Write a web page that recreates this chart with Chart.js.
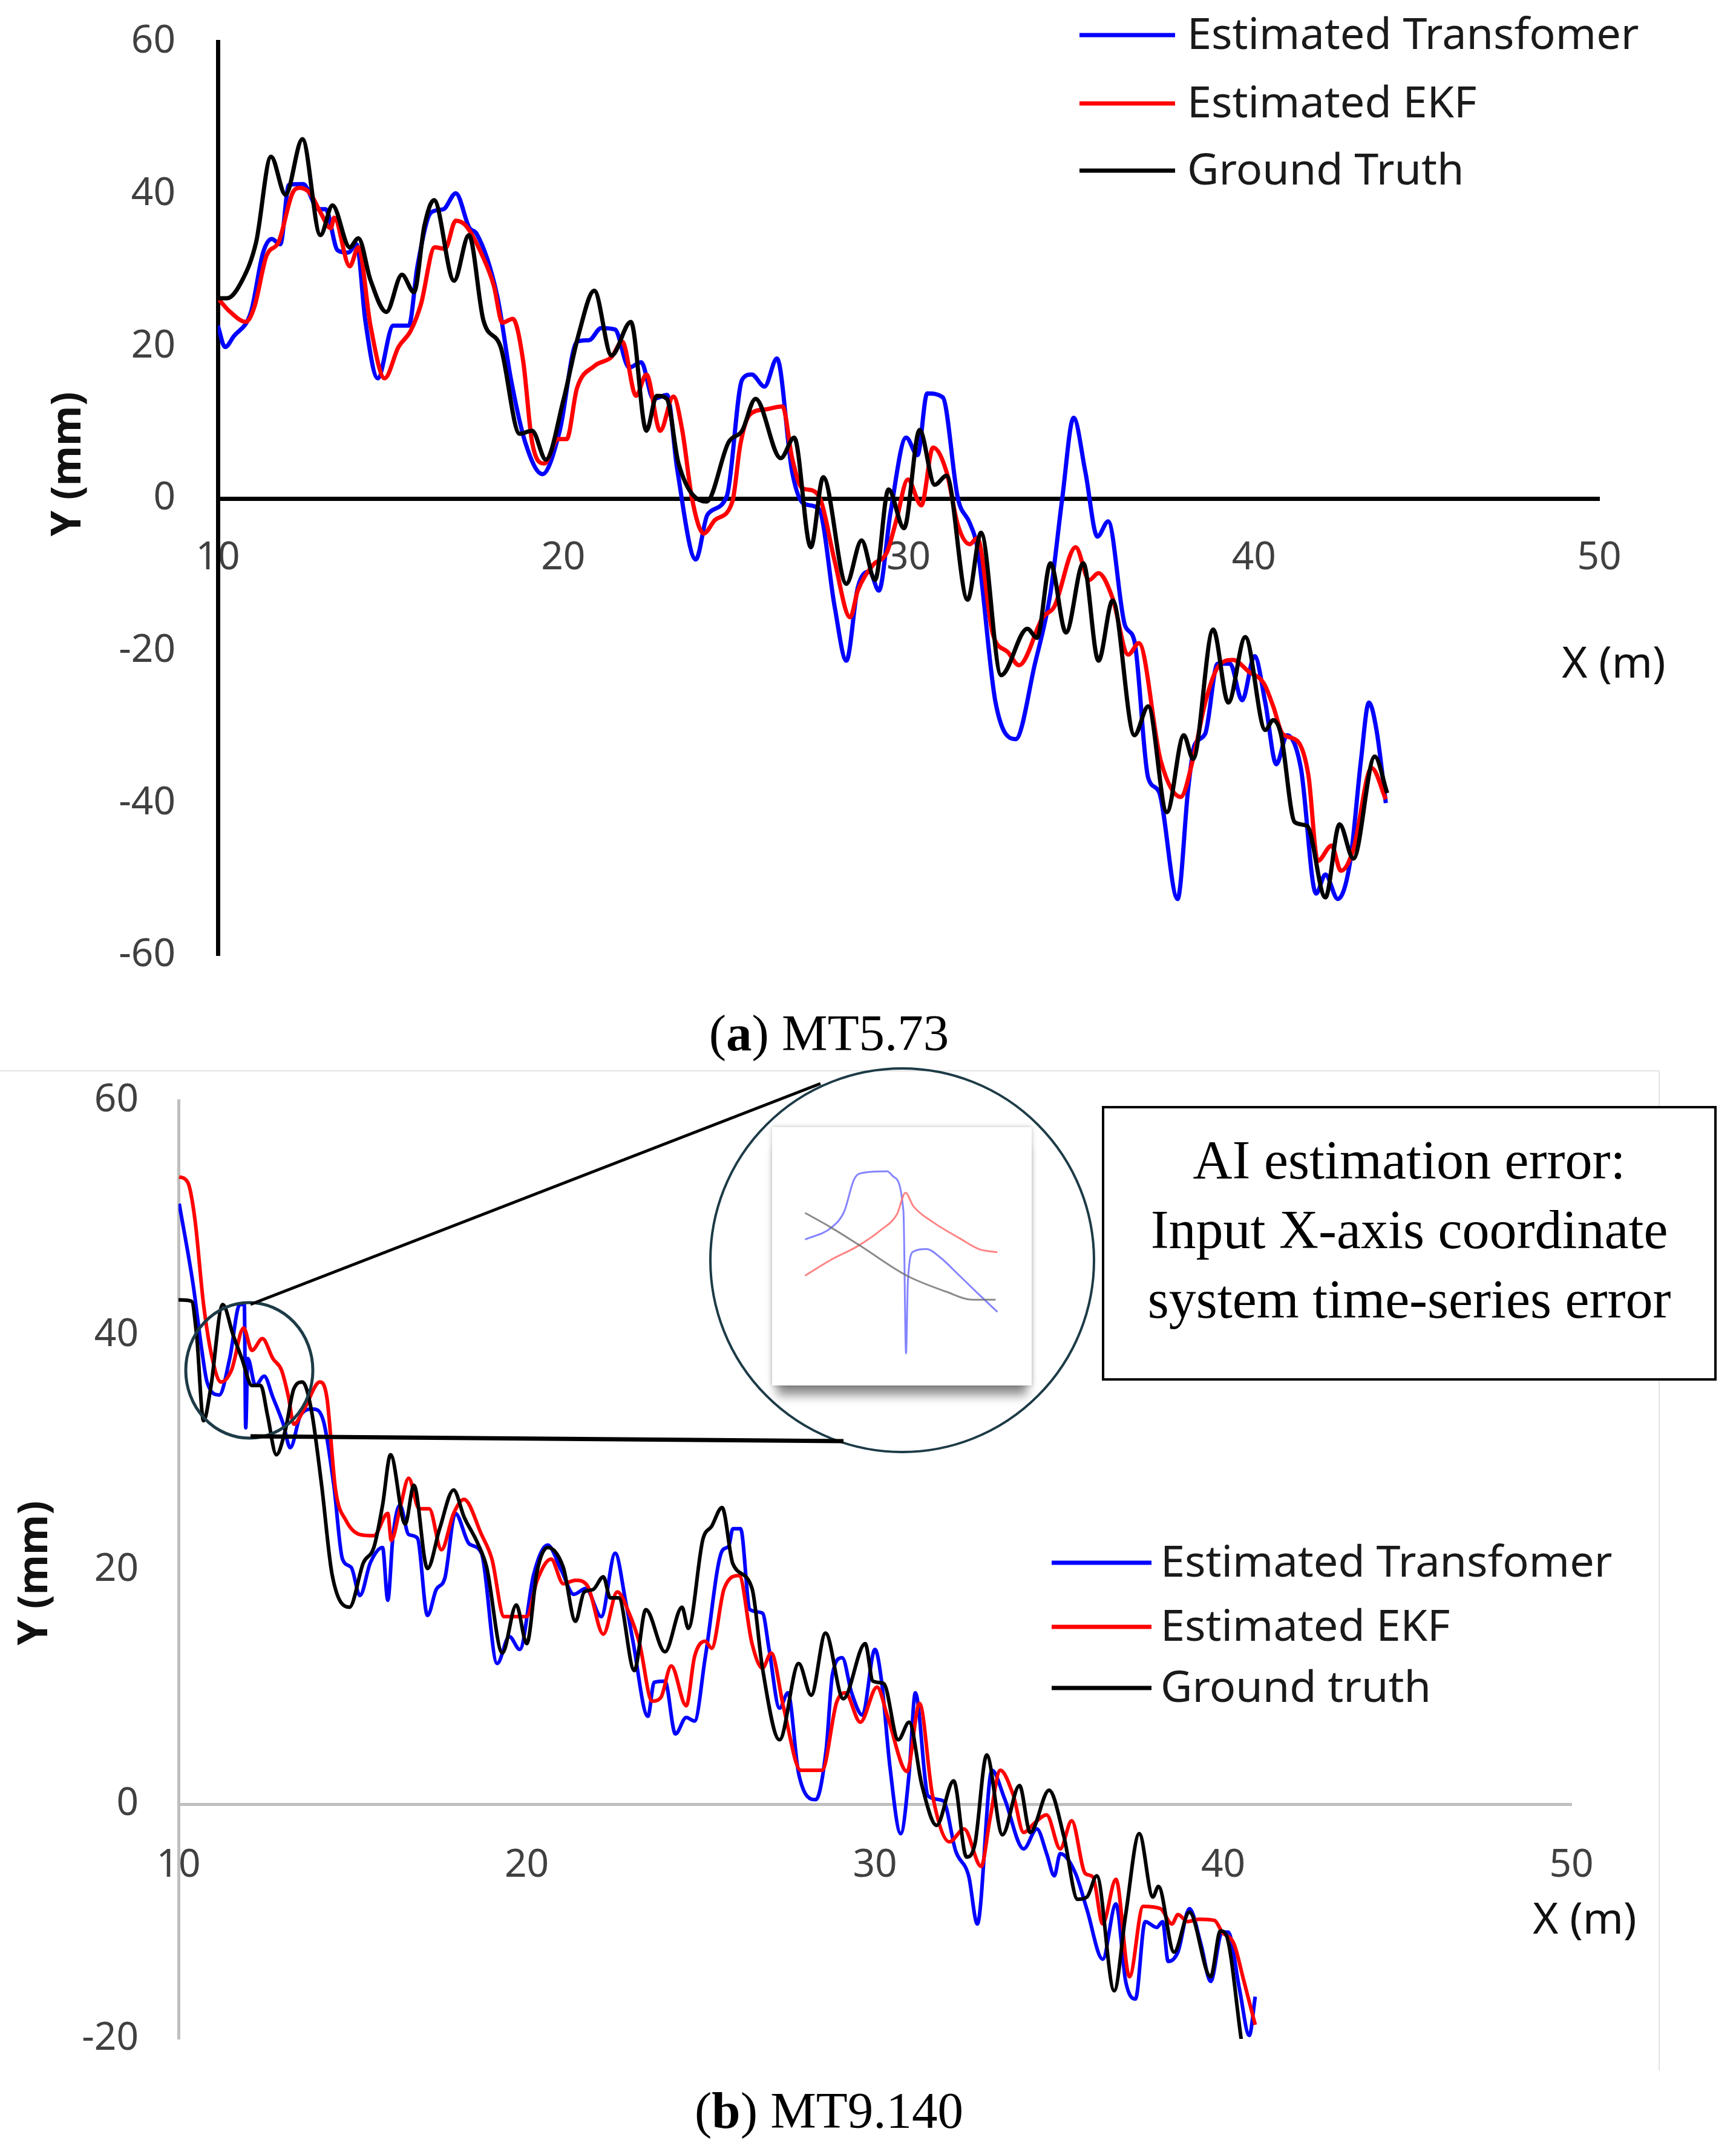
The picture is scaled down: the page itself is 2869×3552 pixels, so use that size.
<!DOCTYPE html>
<html>
<head>
<meta charset="utf-8">
<script src="https://cdn.jsdelivr.net/npm/chart.js@4.4.1/dist/chart.umd.min.js"></script>
<style>
  body { margin:0; background:#fff; width:2869px; height:3552px; position:relative; overflow:hidden; }
  canvas { position:absolute; }
  #top { left:0; top:0; }
  #bottom { left:0; top:1760px; }
  .cap { position:absolute; left:0; width:2740px; text-align:center; font-family:"Liberation Serif", serif; font-size:85px; line-height:100px; color:#000; }
  #insetBox { position:absolute; left:1276px; top:1863px; width:429px; height:427px; background:#fff;
              box-shadow: 0 24px 16px -8px rgba(0,0,0,0.45), 0 0 8px rgba(0,0,0,0.25); }
  #inset { left:0; top:0; }
  #note { position:absolute; left:1821px; top:1828px; width:1016px; height:454px; border:4px solid #000;
          box-sizing:border-box; text-align:center; font-family:"Liberation Serif", serif; font-size:90px;
          line-height:115px; padding-top:28px; color:#000; background:#fff; }
</style>
</head>
<body>
<canvas id="top" width="2869" height="1650"></canvas>
<div class="cap" style="top:1657px">(<b>a</b>) MT5.73</div>
<canvas id="bottom" width="2869" height="1700"></canvas>
<div id="insetBox"><canvas id="inset" width="429" height="427"></canvas></div>
<div id="note">AI estimation error:<br>Input X-axis coordinate<br>system time-series error</div>
<div class="cap" style="top:3438px">(<b>b</b>) MT9.140</div>

<script>
// ---- (a) MT5.73 ----
var topTransX = [10.0,10.21,10.46,10.96,11.31,11.56,11.81,12.06,12.47,12.92,13.12,13.47,13.77,14.02,14.27,14.63,15.08,15.53,15.78,16.18,16.53,16.89,17.29,17.49,18.09,18.49,18.9,19.4,19.9,20.4,20.75,21.1,21.5,21.91,22.26,22.61,23.01,23.3,23.84,24.18,24.74,25.18,25.46,25.83,26.19,26.63,26.97,27.41,27.86,28.2,28.53,28.87,29.14,29.48,29.93,30.26,30.54,30.99,31.43,31.77,31.99,32.52,33.1,33.66,34.11,34.45,34.78,35.12,35.47,35.78,36.27,36.54,36.94,37.25,37.79,38.1,38.28,38.59,38.95,39.31,39.66,40.02,40.33,40.65,40.96,41.36,41.8,42.07,42.43,42.79,43.1,43.33,43.55,43.82];
var topTransY = [22.7,19.9,21.3,24.5,32.3,34.1,33.4,41.2,41.3,38.0,38.0,32.6,32.3,33.4,23.4,15.8,22.7,22.7,30.5,37.6,38.0,40.1,35.5,34.8,26.6,15.6,7.4,3.2,8.9,20.6,20.8,22.4,22.2,17.2,17.9,13.1,13.6,3.9,-8.0,-2.1,0.35,15.6,16.3,14.7,18.4,3.5,-0.7,-1.4,-14.2,-21.3,-11.7,-9.6,-12.1,-1.8,8.0,5.7,13.8,13.3,0,-3.2,-6.4,-26.8,-31.6,-21.7,-12.4,0,10.6,3.5,-5.0,-3.0,-16.7,-18.7,-36.7,-38.5,-52.6,-38.0,-32.4,-30.9,-21.7,-21.7,-26.5,-20.7,-26.8,-34.9,-31.1,-35.4,-51.9,-49.4,-52.6,-47.6,-34.4,-26.8,-30.4,-40.0];

var topEkfX = [10.0,10.36,10.81,11.06,11.41,11.76,12.16,12.37,12.67,12.97,13.27,13.37,13.82,14.07,14.42,14.83,15.23,15.58,15.88,16.28,16.58,16.89,17.19,17.69,17.99,18.24,18.54,18.84,19.1,19.45,19.85,20.1,20.4,20.9,21.4,21.71,22.11,22.41,22.81,23.19,23.45,23.73,24.07,24.4,24.9,25.13,25.4,25.85,26.35,26.63,26.91,27.19,27.47,27.86,28.31,28.53,28.98,29.37,29.65,29.98,30.37,30.71,31.1,31.43,31.77,31.99,32.44,32.88,33.2,33.89,34.22,34.84,35.23,35.5,35.91,36.36,36.67,37.3,37.88,38.24,38.59,38.95,39.4,39.84,40.29,40.56,40.83,41.27,41.58,41.85,42.25,42.52,42.88,43.41,43.82];
var topEkfY = [26.3,24.5,23.2,25.2,31.9,33.7,40.1,40.8,40.1,37.6,35.5,36.9,30.5,33.0,22.7,15.8,19.9,22.0,25.5,33.0,32.8,36.5,35.8,31.6,28.0,23.1,23.6,18.1,7.4,4.6,7.8,7.8,14.5,17.4,18.6,20.6,13.5,16.3,8.9,13.4,8.9,0,-4.6,-2.8,-0.4,7.1,11.0,11.7,12.1,5.3,1.4,1.1,-0.4,-8.2,-15.6,-12.1,-8.7,-7.1,-2.8,2.5,-0.9,6.7,3.5,-3.5,-6.0,-5.2,-17.8,-20.2,-21.9,-15.6,-14.2,-6.4,-10.7,-9.8,-13.1,-20.5,-19.0,-34.4,-39.2,-34.2,-26.8,-22.2,-21.2,-22.7,-24.3,-27.3,-30.9,-31.9,-36.4,-47.6,-45.6,-48.9,-46.1,-35.4,-39.5];

var topTruthX = [10.0,10.26,10.71,11.11,11.54,11.96,12.45,12.97,13.32,13.82,14.07,14.42,14.88,15.33,15.68,15.98,16.26,16.84,17.27,17.69,18.19,18.74,19.1,19.5,20.0,20.45,20.9,21.4,21.96,22.41,22.71,23.0,23.34,24.15,24.79,25.18,25.57,26.3,26.69,27.17,27.53,28.2,28.64,29.03,29.42,29.87,30.32,30.76,31.1,31.71,32.1,32.68,33.44,33.72,34.11,34.56,35.06,35.5,35.91,36.54,36.94,37.48,37.97,38.24,38.82,39.26,39.75,40.33,40.56,40.78,41.18,41.54,42.07,42.48,42.88,43.5,43.86];
var topTruthY = [26.3,26.3,28.7,33.7,44.9,39.9,47.2,34.6,38.5,33.0,34.2,28.7,24.5,29.4,27.1,35.8,39.2,28.6,34.6,23.4,19.9,8.5,8.9,5.1,12.8,21.6,27.3,18.8,23.2,8.9,13.5,13.1,4.6,-0.4,7.4,8.9,13.1,5.3,8.0,-6.4,2.8,-11.2,-5.5,-10.7,1.2,-3.9,9.0,1.8,3.0,-13.3,-4.5,-23.2,-17.1,-18.3,-8.5,-17.6,-8.5,-21.3,-13.4,-31.1,-27.3,-41.2,-31.1,-34.2,-17.2,-26.8,-18.2,-30.4,-29.1,-30.9,-42.5,-43.0,-52.4,-42.8,-47.3,-33.9,-38.7];

// ---- (b) MT9.140 ----
var botTransX = [10.02,10.42,10.67,10.82,11.17,11.47,11.76,11.89,11.93,11.99,12.21,12.46,12.71,13.01,13.21,13.51,13.86,14.16,14.46,14.71,14.96,15.21,15.51,15.86,16.01,16.16,16.36,16.61,16.86,17.15,17.4,17.65,17.95,18.35,18.7,19.15,19.5,19.8,20.2,20.6,21.0,21.35,21.7,22.14,22.54,22.84,23.05,23.48,23.66,23.97,24.27,24.58,24.82,25.13,25.61,25.8,25.92,26.14,26.41,26.77,26.96,27.26,27.5,27.81,28.3,28.6,28.78,29.06,29.33,29.64,30.0,30.19,30.43,30.74,30.98,31.16,31.53,31.96,32.32,32.69,32.94,33.36,33.72,34.27,34.65,34.93,35.15,35.32,35.76,36.09,36.54,36.92,37.2,37.48,37.76,38.09,38.26,38.42,38.7,39.03,39.36,39.64,39.97,40.14,40.47,40.75,40.92];
var botTransY = [51.2,44.3,38.7,36.0,34.9,38.0,42.6,42.6,32.1,38.0,35.7,36.5,34.7,32.4,30.4,33.2,33.7,32.7,27.2,20.9,20.2,17.8,20.6,21.9,17.4,22.9,25.5,23.0,22.7,16.1,18.3,19.3,24.8,22.2,21.4,12.0,14.3,13.2,19.6,22.1,19.9,17.9,18.4,16.0,21.4,17.3,13.9,7.5,10.4,10.5,6.0,7.4,7.1,12.6,21.6,22.0,23.5,23.5,16.6,16.3,13.2,8.2,9.5,2.6,0.4,4.7,11.1,12.5,9.5,7.6,13.2,10.5,3.2,-2.5,2.6,9.5,0.7,0.3,-4.0,-6.1,-10.2,2.9,0.5,-3.8,-2.1,-4.2,-6.1,-4.2,-5.9,-9.0,-13.2,-8.5,-15.1,-16.6,-10.0,-10.5,-10.0,-13.4,-12.6,-8.9,-11.9,-15.1,-10.9,-10.9,-15.8,-19.7,-16.4];

var botEkfX = [10.02,10.27,10.47,10.72,10.97,11.22,11.52,11.87,12.11,12.41,12.71,12.96,13.16,13.31,13.61,14.06,14.26,14.51,14.81,15.21,15.61,16.01,16.11,16.36,16.61,16.91,17.2,17.55,17.9,18.2,18.7,19.0,19.35,19.7,20.0,20.3,20.7,21.05,21.4,21.75,22.2,22.6,22.94,23.24,23.6,23.85,24.15,24.58,24.82,25.13,25.31,25.67,26.1,26.47,26.77,27.02,27.38,27.87,28.48,28.9,29.15,29.58,30.06,30.37,30.92,31.28,31.65,32.14,32.56,33.05,33.3,33.6,33.97,34.27,34.58,34.93,35.32,35.65,36.04,36.26,36.54,36.92,37.31,37.7,38.2,38.53,38.7,38.98,39.31,39.75,39.97,40.31,40.58,40.92];
var botEkfY = [53.5,53.0,49.9,42.6,38.0,36.0,37.0,40.6,38.7,39.7,38.0,37.0,34.7,32.4,33.7,36.0,34.7,26.8,24.2,23.0,22.9,24.8,22.5,25.2,27.8,25.2,25.2,21.7,24.8,26.0,23.0,20.9,16.0,16.0,16.0,19.1,20.9,18.8,19.1,18.6,14.5,18.1,16.3,13.7,8.8,9.1,11.8,8.4,12.6,13.9,13.3,18.4,19.5,13.7,11.6,12.9,8.2,2.9,2.9,8.7,9.5,7.0,10.0,7.4,2.8,8.6,0.8,-3.2,-2.1,-5.3,-1.3,2.9,0.8,-2.4,-1.6,-0.9,-3.8,-1.4,-5.9,-6.2,-10.2,-6.4,-14.7,-8.7,-8.9,-10.2,-9.4,-10.0,-9.8,-9.9,-10.9,-11.9,-14.9,-18.8];

var botTruthX = [10.0,10.37,10.52,10.72,10.92,11.27,11.57,11.82,12.11,12.36,12.56,12.81,13.06,13.31,13.56,13.81,14.11,14.41,14.91,15.31,15.61,15.86,16.09,16.51,16.76,17.15,17.5,17.9,18.2,18.6,18.85,19.3,19.7,20.0,20.3,20.6,21.05,21.4,21.65,21.9,22.2,22.4,22.64,23.09,23.42,23.97,24.46,24.64,25.06,25.31,25.61,25.92,26.47,26.77,27.26,27.81,28.17,28.58,29.09,29.72,29.94,30.25,30.67,30.98,31.35,31.77,32.26,32.63,32.87,33.21,33.66,34.15,34.46,35.0,35.43,35.82,36.09,36.37,36.87,37.2,37.59,37.98,38.14,38.59,39.03,39.64,39.92,40.08,40.53];
var botTruthY = [43.0,42.9,40.0,32.7,35.4,42.6,40.0,38.0,35.7,35.7,33.1,29.8,31.8,35.4,36.0,33.7,27.2,19.6,16.8,20.6,21.9,25.5,29.8,23.9,27.2,20.1,23.5,26.8,24.5,22.2,20.2,12.9,17.0,13.7,19.9,21.9,20.2,15.6,18.1,18.3,19.4,17.6,17.6,11.4,16.6,13.0,16.8,15.0,22.6,23.7,25.3,20.5,18.4,11.6,5.5,12.0,9.3,14.6,9.0,13.7,10.5,10.3,5.5,7.0,1.6,-1.8,2.0,-4.5,-3.4,4.2,-2.6,1.6,-2.4,1.2,-2.8,-8.1,-7.9,-6.1,-15.9,-9.4,-2.5,-7.9,-7.0,-12.6,-9.2,-14.7,-10.8,-11.1,-20.3];

// ---- zoomed inset (relative units 0..100) ----
var insetTransX = [12.7,22.8,27.8,31.6,35.4,44.3,46.8,50.6,51.6,52.3,54.4,59.5,64.6,72.2,79.7,86.8];
var insetTransY = [56.5,61.1,67.4,79.8,82.4,82.9,80.8,67.4,12.4,40.0,51.8,52.8,49.7,42.5,35.2,28.5];
var insetEkfX = [12.7,22.8,32.9,41.8,48.1,51.4,54.4,62.0,72.2,79.7,86.8];
var insetEkfY = [42.5,48.7,53.9,60.1,66.3,74.6,69.4,63.2,57.0,52.8,51.6];
var insetTruthX = [12.7,22.8,34.2,51.9,67.1,77.2,86.1];
var insetTruthY = [66.8,61.1,53.9,42.5,36.3,33.2,33.2];

var labels = ['Estimated Transfomer', 'Estimated EKF', 'Ground Truth'];
var labelsB = ['Estimated Transfomer', 'Estimated EKF', 'Ground truth'];
var colors = ['#0000ff', '#ff0000', '#000000'];
var xTicks = [10, 20, 30, 40, 50];

function pts(xs, ys) { return xs.map(function (x, i) { return {x: x, y: ys[i]}; }); }

function series(lbls, sets, width) {
  return sets.map(function (s, i) {
    return {
      label: lbls[i], data: pts(s[0], s[1]), borderColor: colors[i], backgroundColor: colors[i],
      borderWidth: width, pointRadius: 0, cubicInterpolationMode: 'monotone', fill: false, order: 3 - i
    };
  });
}

function noPad(s) { s.paddingLeft = 0; s.paddingRight = 0; s.paddingTop = 0; s.paddingBottom = 0; }

function drawLegend(ctx, lbls, x0, x1, tx, rows) {
  ctx.save();
  ctx.font = '72px "Noto Sans"';
  ctx.textBaseline = 'middle';
  ctx.textAlign = 'left';
  lbls.forEach(function (l, i) {
    ctx.strokeStyle = colors[i];
    ctx.lineWidth = 7;
    ctx.beginPath(); ctx.moveTo(x0, rows[i]); ctx.lineTo(x1, rows[i]); ctx.stroke();
    ctx.fillStyle = '#1a1a1a';
    ctx.fillText(l, tx, rows[i] + 2);
  });
  ctx.restore();
}

function axisTitles(ctx, yx, yy, xx, xy) {
  ctx.save();
  ctx.fillStyle = '#111';
  ctx.textAlign = 'center';
  ctx.textBaseline = 'middle';
  ctx.font = '72px "Noto Sans"';
  ctx.fillText('X (m)', xx, xy);
  ctx.translate(yx, yy);
  ctx.rotate(-Math.PI / 2);
  ctx.font = 'bold 68px "Noto Sans"';
  ctx.fillText('Y (mm)', 0, 0);
  ctx.restore();
}

function scalesFor(ymin, ymax, axisColor, axisWidth, yWidth, xPad, yPad) {
  return {
    x: {
      type: 'linear', min: 10, max: 50, position: {y: 0},
      afterBuildTicks: function (s) { s.ticks = xTicks.map(function (v) { return {value: v}; }); },
      afterFit: noPad,
      grid: {display: false, drawTicks: false},
      border: {display: true, color: axisColor, width: axisWidth},
      ticks: {autoSkip: false, maxRotation: 0, padding: xPad, color: '#404040', font: {family: 'Noto Sans', size: 64}}
    },
    y: {
      type: 'linear', min: ymin, max: ymax, position: 'left',
      afterFit: function (s) { noPad(s); s.width = yWidth; },
      grid: {display: false, drawTicks: false},
      border: {display: true, color: axisColor, width: axisWidth},
      ticks: {stepSize: 20, padding: yPad, color: '#404040', font: {family: 'Noto Sans', size: 64}}
    }
  };
}

Chart.defaults.font.family = 'Noto Sans';

new Chart(document.getElementById('top'), {
  type: 'line',
  data: {datasets: series(labels, [[topTransX, topTransY], [topEkfX, topEkfY], [topTruthX, topTruthY]], 7)},
  options: {
    responsive: false, animation: false, devicePixelRatio: 1,
    layout: {padding: {left: 0, right: 226, top: 69, bottom: 71}},
    plugins: {legend: {display: false}, tooltip: {enabled: false}},
    scales: scalesFor(-60, 60, '#000000', 7, 360, 60, 70)
  },
  plugins: [{
    id: 'topDecor',
    afterDraw: function (chart) {
      var ctx = chart.ctx;
      drawLegend(ctx, labels, 1784, 1942, 1962, [58, 171, 282]);
      axisTitles(ctx, 114, 767, 2667, 1099);
    }
  }]
});

new Chart(document.getElementById('bottom'), {
  type: 'line',
  data: {datasets: series(labelsB, [[botTransX, botTransY], [botEkfX, botEkfY], [botTruthX, botTruthY]], 6)},
  options: {
    responsive: false, animation: false, devicePixelRatio: 1,
    layout: {padding: {left: 0, right: 272, top: 59, bottom: 90}},
    plugins: {legend: {display: false}, tooltip: {enabled: false}},
    scales: scalesFor(-20, 60, '#bfbfbf', 5, 295, 63, 66)
  },
  plugins: [{
    id: 'bottomDecor',
    afterDraw: function (chart) {
      var ctx = chart.ctx;
      ctx.save();
      // chart frame
      ctx.strokeStyle = '#e3e3e3'; ctx.lineWidth = 2;
      ctx.beginPath(); ctx.moveTo(0, 10); ctx.lineTo(2742, 10); ctx.lineTo(2742, 1663); ctx.stroke();
      // zoom callout
      ctx.strokeStyle = '#1d3b47'; ctx.lineWidth = 5;
      ctx.beginPath(); ctx.ellipse(412, 505, 105, 112, 0, 0, Math.PI * 2); ctx.stroke();
      ctx.lineWidth = 4;
      ctx.beginPath(); ctx.ellipse(1491, 323, 317, 317, 0, 0, Math.PI * 2); ctx.stroke();
      ctx.strokeStyle = '#000'; ctx.lineWidth = 5;
      ctx.beginPath(); ctx.moveTo(414, 396); ctx.lineTo(1356, 31); ctx.stroke();
      ctx.lineWidth = 7;
      ctx.beginPath(); ctx.moveTo(414, 614); ctx.lineTo(1394, 622); ctx.stroke();
      ctx.restore();
      drawLegend(ctx, labelsB, 1738, 1903, 1918, [823, 929, 1030]);
      axisTitles(ctx, 59, 840, 2619, 1415);
    }
  }]
});

new Chart(document.getElementById('inset'), {
  type: 'line',
  data: {datasets: [
    {data: pts(insetTruthX, insetTruthY), borderColor: 'rgba(110,110,110,0.8)', borderWidth: 3, pointRadius: 0, cubicInterpolationMode: 'monotone'},
    {data: pts(insetEkfX, insetEkfY), borderColor: 'rgba(255,110,110,0.85)', borderWidth: 3, pointRadius: 0, cubicInterpolationMode: 'monotone'},
    {data: pts(insetTransX, insetTransY), borderColor: 'rgba(110,110,255,0.85)', borderWidth: 3, pointRadius: 0, cubicInterpolationMode: 'monotone'}
  ]},
  options: {
    responsive: false, animation: false, devicePixelRatio: 1,
    layout: {padding: 0},
    plugins: {legend: {display: false}, tooltip: {enabled: false}},
    scales: {
      x: {type: 'linear', min: 0, max: 100, display: false},
      y: {type: 'linear', min: 0, max: 100, display: false}
    }
  }
});
</script>
</body>
</html>
